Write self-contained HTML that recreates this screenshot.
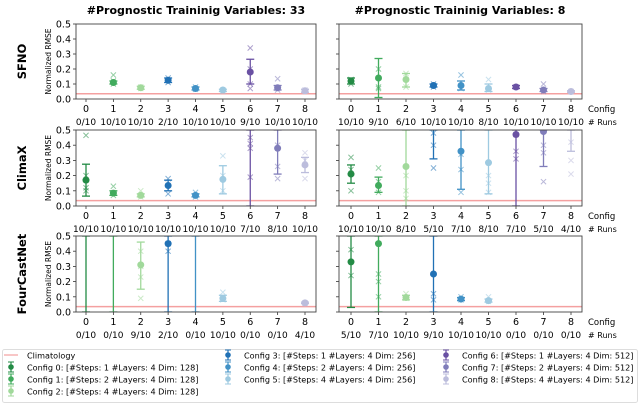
<!DOCTYPE html>
<html><head><meta charset="utf-8"><style>
body{margin:0;background:#fff;}
svg{display:block;font-family:"DejaVu Sans","Liberation Sans",sans-serif;}
</style></head><body>
<svg id="chart" width="640" height="403" viewBox="0 0 640 403" xmlns="http://www.w3.org/2000/svg"></svg>
<script>
const configs=[0,1,2,3,4,5,6,7,8];
const colors=['#238b45','#41ab5d','#a1d99b','#2171b5','#4292c6','#9ecae1','#6a51a3','#807dba','#bcbddc'];
const legendLabels=['Config 0: [#Steps: 1 #Layers: 4 Dim: 128]','Config 1: [#Steps: 2 #Layers: 4 Dim: 128]','Config 2: [#Steps: 4 #Layers: 4 Dim: 128]','Config 3: [#Steps: 1 #Layers: 4 Dim: 256]','Config 4: [#Steps: 2 #Layers: 4 Dim: 256]','Config 5: [#Steps: 4 #Layers: 4 Dim: 256]','Config 6: [#Steps: 1 #Layers: 4 Dim: 512]','Config 7: [#Steps: 2 #Layers: 4 Dim: 512]','Config 8: [#Steps: 4 #Layers: 4 Dim: 512]'];
const yTicks=[0.0,0.1,0.2,0.3,0.4,0.5];
const climatology=0.035;
// per panel: mean, lower, upper, scatter points (null = no runs)
const sfno33Mean=[null,.11,.075,.125,.07,.06,.18,.075,.055];
const sfno33Lo=[null,.10,.065,.11,.06,.05,.10,.06,.045];
const sfno33Hi=[null,.12,.085,.14,.08,.065,.265,.09,.065];
const sfno33Pts=[[],[.16,.10,.12],[.08,.07],[.14,.11],[.08,.065],[.06,.05],[.34,.07,.2,.1],[.135,.06],[.06,.05]];
const sfno33Runs=['0/10','10/10','10/10','2/10','10/10','10/10','9/10','10/10','10/10'];
const sfno8Mean=[.12,.14,.13,.09,.09,.07,.08,.06,.05];
const sfno8Lo=[.10,.01,.08,.08,.06,.05,.07,.05,.045];
const sfno8Hi=[.14,.27,.17,.10,.12,.10,.09,.07,.055];
const sfno8Pts=[[.13,.10],[.2,.08,.07],[.17,.08],[.1,.08],[.16,.07],[.13,.06],[.08],[.1,.05],[.05]];
const sfno8Runs=['10/10','9/10','6/10','10/10','10/10','8/10','10/10','10/10','10/10'];
const climax33Mean=[.17,.085,.07,.135,.07,.175,.6,.38,.27];
const climax33Lo=[.065,.07,.06,.10,.06,.08,0,.21,.22];
const climax33Hi=[.275,.10,.08,.17,.08,.265,.6,.5,.32];
const climax33Pts=[[.465,.12,.1,.2],[.13,.07],[.1,.06],[.18,.08],[.09,.06],[.33,.1,.2],[.41,.19,.45,.38],[.26,.18,.4],[.35,.18,.3]];
const climax33Runs=['10/10','10/10','10/10','10/10','10/10','10/10','7/10','8/10','10/10'];
const climax8Mean=[.21,.135,.26,.6,.36,.285,.47,.49,.6];
const climax8Lo=[.15,.09,0,.31,.11,.08,0,.26,.36];
const climax8Hi=[.27,.19,.5,.6,.5,.5,.5,.5,.6];
const climax8Pts=[[.32,.1,.24],[.25,.09,.16],[.1,.05,.2],[.4,.25,.48],[.24,.09,.34],[.15,.09,.2],[.36,.31,.47],[.35,.16,.4],[.3,.21,.42]];
const climax8Runs=['10/10','10/10','8/10','5/10','7/10','8/10','7/10','5/10','4/10'];
const fcn33Mean=[.6,.6,.31,.45,.6,.09,null,null,.06];
const fcn33Lo=[0,0,.15,0,0,.07,null,null,.055];
const fcn33Hi=[.6,.6,.46,.6,.6,.11,null,null,.065];
const fcn33Pts=[[],[],[.09,.23,.4,.3],[.4,.45],[],[.13,.08],[],[],[.06,.055]];
const fcn33Runs=['0/10','0/10','9/10','2/10','0/10','10/10','0/10','0/10','4/10'];
const fcn8Mean=[.33,.45,.095,.25,.085,.075,null,null,null];
const fcn8Lo=[.03,0,.08,0,.075,.065,null,null,null];
const fcn8Hi=[.6,.6,.11,.6,.095,.085,null,null,null];
const fcn8Pts=[[.24,.41],[.2,.1,.25],[.12,.09],[.12,.08],[.1,.08],[.1,.07],[],[],[]];
const fcn8Runs=['5/10','7/10','10/10','9/10','10/10','10/10','0/10','0/10','0/10'];

const NS='http://www.w3.org/2000/svg';
const svg=document.getElementById('chart');
function mk(tag,attrs,parent,text){const e=document.createElementNS(NS,tag);for(const k in attrs)e.setAttribute(k,attrs[k]);if(text!==undefined)e.textContent=text;(parent||svg).appendChild(e);return e;}

const cols=[{x0:76,x1:316,c0:86,c8:305},{x0:339,x1:582,c0:351,c8:571}];
const rows=[{top:24,bot:99,lab:'SFNO'},{top:130,bot:206,lab:'ClimaX'},{top:236,bot:312,lab:'FourCastNet'}];
const panels=[[{m:sfno33Mean,lo:sfno33Lo,hi:sfno33Hi,p:sfno33Pts,r:sfno33Runs},{m:sfno8Mean,lo:sfno8Lo,hi:sfno8Hi,p:sfno8Pts,r:sfno8Runs}],
[{m:climax33Mean,lo:climax33Lo,hi:climax33Hi,p:climax33Pts,r:climax33Runs},{m:climax8Mean,lo:climax8Lo,hi:climax8Hi,p:climax8Pts,r:climax8Runs}],
[{m:fcn33Mean,lo:fcn33Lo,hi:fcn33Hi,p:fcn33Pts,r:fcn33Runs},{m:fcn8Mean,lo:fcn8Lo,hi:fcn8Hi,p:fcn8Pts,r:fcn8Runs}]];

let t=mk('text',{x:196,y:14,'text-anchor':'middle','font-size':'11','font-weight':'bold'},svg,'#Prognostic Traininig Variables: 33');

t=mk('text',{x:460,y:14,'text-anchor':'middle','font-size':'11','font-weight':'bold'},svg,'#Prognostic Traininig Variables: 8');


rows.forEach((R,ri)=>{
  const cy=(R.top+R.bot)/2;
  const rl=mk('text',{x:26,y:cy,'text-anchor':'middle','font-size':'11.5','font-weight':'bold',transform:`rotate(-90 26 ${cy})`},svg,R.lab);
  
  
  const yl=mk('text',{x:51,y:cy,'text-anchor':'middle','font-size':'7.5',transform:`rotate(-90 51 ${cy})`},svg,'Normalized RMSE');
  
  
  cols.forEach((C,ci)=>{
    const P=panels[ri][ci];
    const g=mk('g',{});
    
    
    const ys=v=>R.bot-(Math.min(v,0.5))/0.5*(R.bot-R.top);
    const xs=i=>C.c0+i*(C.c8-C.c0)/8;
    const clip='clip'+ri+ci;
    const cp=mk('clipPath',{id:clip},g);mk('rect',{x:C.x0,y:R.top,width:C.x1-C.x0,height:R.bot-R.top},cp);
    yTicks.forEach(v=>{
      mk('line',{x1:C.x0-3,x2:C.x0,y1:ys(v),y2:ys(v),stroke:'#333','stroke-width':0.8},g);
      if(ci===0){const tl=mk('text',{x:C.x0-5,y:ys(v)+3.5,'text-anchor':'end','font-size':'9.5'},g,v.toFixed(1));
        }
    });
    const cl=mk('line',{x1:C.x0,x2:C.x1,y1:ys(climatology),y2:ys(climatology),stroke:'#f4a0a0','stroke-width':1.5},g);
    
    const inner=mk('g',{'clip-path':`url(#${clip})`},g);
    configs.forEach(i=>{
      const x=xs(i),col=colors[i];
      mk('line',{x1:x,x2:x,y1:R.bot,y2:R.bot+3,stroke:'#333','stroke-width':0.8},g);
      const xl=mk('text',{x:x,y:R.bot+13,'text-anchor':'middle','font-size':'9.5'},g,String(i));
      
      const rr=mk('text',{x:x,y:R.bot+26,'text-anchor':'middle','font-size':'9'},g,P.r[i]);
      
      P.p[i].forEach(v=>{const yy=ys(v);const s=2.6;
        const pt=mk('path',{d:`M${x-s},${yy-s}L${x+s},${yy+s}M${x-s},${yy+s}L${x+s},${yy-s}`,stroke:col,'stroke-width':1,opacity:0.55},inner);
        });
      if(P.m[i]!==null){
        const y1=ys(P.lo[i]),y2=ys(P.hi[i]);
        const eb=mk('g',{stroke:col,'stroke-width':1.3},inner);
        
        mk('line',{x1:x,x2:x,y1:y1,y2:y2},eb);
        mk('line',{x1:x-4,x2:x+4,y1:y1,y2:y1},eb);mk('line',{x1:x-4,x2:x+4,y1:y2,y2:y2},eb);
        if(P.m[i]<=0.5){const mc=mk('circle',{cx:x,cy:ys(P.m[i]),r:3.5,fill:col},inner);
          }
      }
    });
    mk('rect',{x:C.x0,y:R.top,width:C.x1-C.x0,height:R.bot-R.top,fill:'none',stroke:'#444','stroke-width':0.9},g);
    if(ci===1){
      const a=mk('text',{x:588,y:R.bot+13,'font-size':'8.5'},g,'Config');
      const b=mk('text',{x:588,y:R.bot+26,'font-size':'8'},g,'# Runs');
    }
  });
});

// legend
const lg=mk('g',{});


mk('rect',{x:2.5,y:349.5,width:635,height:53,fill:'#fff',stroke:'#ddd',rx:2},lg);
const entries=[{lab:'Climatology',c:-1}].concat(legendLabels.map((l,i)=>({lab:l,c:i})));
const pos=[[0,0],[0,1],[0,2],[0,3],[1,0],[1,1],[1,2],[2,0],[2,1],[2,2]];
const colX=[8,225,443];
entries.forEach((e,k)=>{
  const [cc,rr]=pos[k];const x=colX[cc],y=358+rr*12;
  const eg=mk('g',{},lg);
  
  
  if(e.c<0){mk('line',{x1:x-4,x2:x+10,y1:y-3,y2:y-3,stroke:'#f4a0a0','stroke-width':1.2},eg);}
  else{const col=colors[e.c];mk('line',{x1:x+3,x2:x+3,y1:y-8,y2:y+2,stroke:col,'stroke-width':1.2},eg);
    mk('line',{x1:x,x2:x+6,y1:y-8,y2:y-8,stroke:col},eg);mk('line',{x1:x,x2:x+6,y1:y+2,y2:y+2,stroke:col},eg);
    mk('circle',{cx:x+3,cy:y-3,r:2.8,fill:col},eg);}
  mk('text',{x:x+19,y:y+0.5,'font-size':'8.1'},eg,e.lab);
});
</script>
</body></html>
